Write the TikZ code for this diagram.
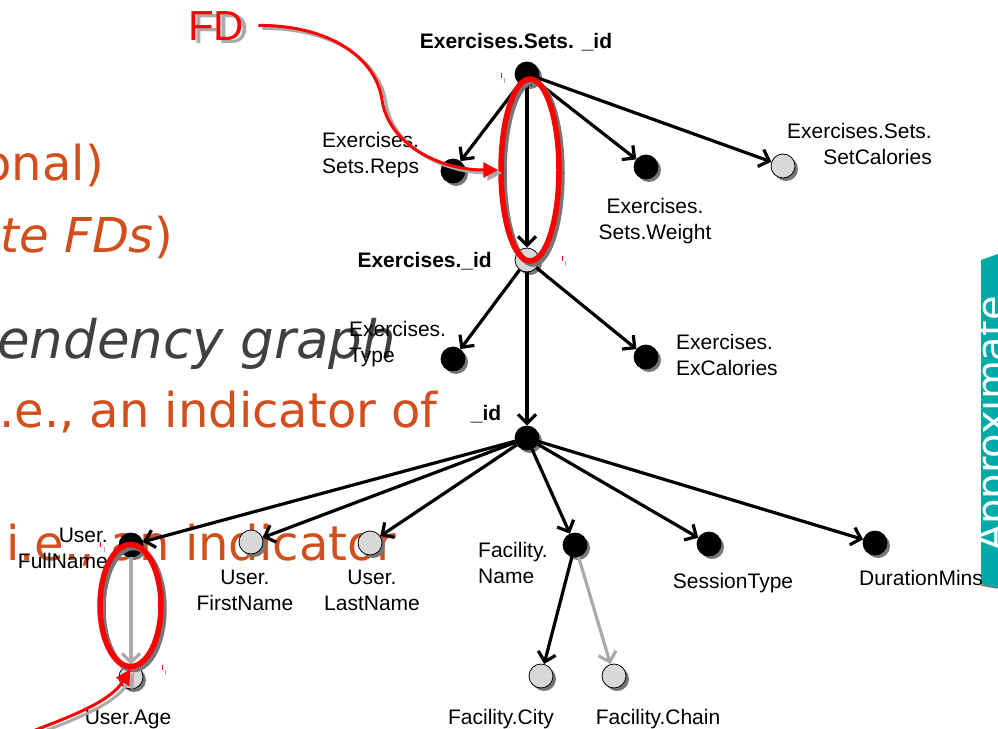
\documentclass[tikz,border=0pt]{standalone}
\usepackage{fontspec}
\setmainfont{Liberation Sans}
\newfontfamily\slidefont{DejaVu Sans}
\usetikzlibrary{arrows.meta,shadows,shapes.geometric}

\definecolor{slideorange}{RGB}{210,78,28}
\definecolor{slidegray}{RGB}{64,64,64}
\definecolor{tabteal}{RGB}{0,170,168}
\definecolor{nodegray}{RGB}{216,216,216}
\definecolor{shadowgray}{RGB}{118,118,118}
\definecolor{softgray}{RGB}{170,170,170}
\definecolor{fdred}{RGB}{255,0,0}

\begin{document}
\begin{tikzpicture}[x=1pt,y=-1pt,
  attr/.style={circle, minimum size=24pt, inner sep=0pt, draw=black, line width=0.8pt,
    drop shadow={shadow xshift=3pt, shadow yshift=-3pt, fill=shadowgray, opacity=1}},
  key/.style={attr, fill=black},
  nonkey/.style={attr, fill=nodegray},
  dep/.style={line width=3.2pt, draw=black, -{Straight Barb[length=9pt,width=18pt]}},
  weakdep/.style={dep, draw=softgray},
  lbl/.style={inner sep=0pt, font=\fontsize{21}{25.5}\selectfont},
  blbl/.style={inner sep=0pt, font=\fontsize{21}{25.5}\selectfont\bfseries},
  slidetext/.style={inner sep=0pt, text=slideorange, font=\slidefont\fontsize{48}{48}\selectfont},
  slidehead/.style={inner sep=0pt, text=slidegray, font=\slidefont\fontsize{53}{53}\selectfont},
  grp/.style={ellipse, inner sep=0pt, line width=5.5pt},
  fdcurve/.style={line width=3pt, draw=fdred, -{Triangle[length=15pt,width=15pt]}},
  fdshadow/.style={line width=3pt, draw=softgray, -{Triangle[length=15pt,width=15pt]},
    transform canvas={xshift=4pt,yshift=-3pt}},
  tick/.style={line width=1pt}
]
\useasboundingbox (0,0) rectangle (998,728);
\clip (0,0) rectangle (998,728);

% slide text behind the graph
\node[slidetext, anchor=base east] (s1) at (104,180) {onal)};
\node[slidetext, anchor=base east] (s2) at (173,252) {\textit{te FDs})};
\node[slidehead, anchor=base east] (s3) at (396,358) {\textit{endency graph}};
\node[slidetext, anchor=base east] (s4) at (438,427) {.e., an indicator of};
\node[slidetext, anchor=base west] (s5) at (6,560) {i.e., an indicator};

% side tab
\fill[tabteal] (981,260) -- (998,254) -- (998,588) -- (981,584) -- cycle;
\draw[line width=1.5pt, shadowgray] (981,585) -- (997,588);
\node[rotate=90, text=white, inner sep=0pt, anchor=base,
      font=\slidefont\fontsize{40}{40}\selectfont] (tab) at (1005,424) {Approximate};

% attributes
\node[key]    (setid)     at (527,74)  {};
\node[key]    (reps)      at (453,171) {};
\node[key]    (weight)    at (646,167) {};
\node[nonkey] (setcal)    at (783,166) {};
\node[nonkey] (exid)      at (527,260) {};
\node[key]    (extype)    at (453,359) {};
\node[key]    (excal)     at (646,357) {};
\node[key]    (sid)       at (527,438) {};
\node[key]    (fullname)  at (131,545) {};
\node[nonkey] (firstname) at (251,542) {};
\node[nonkey] (lastname)  at (370,543) {};
\node[key]    (facname)   at (575,545) {};
\node[key]    (sesstype)  at (709,544) {};
\node[key]    (duration)  at (875,543) {};
\node[nonkey] (faccity)   at (541,676) {};
\node[nonkey] (facchain)  at (614,676) {};
\node[nonkey] (age)       at (131,677) {};

% attribute names (base = baseline of the last line)
\node[blbl, anchor=base] (setidL) at (516,48) {Exercises.Sets. \_id};
\node[lbl, anchor=base west, align=left] (repsL) at (322,173) {Exercises.\\Sets.Reps};
\node[lbl, anchor=base, align=center] (weightL) at (655,239) {Exercises.\\Sets.Weight};
\node[lbl, anchor=base east, align=right] (setcalL) at (932,164) {Exercises.Sets.\\SetCalories};
\node[blbl, anchor=base east] (exidL) at (492,267) {Exercises.\_id};
\node[lbl, anchor=base west, align=left] (extypeL) at (349,362) {Exercises.\\Type};
\node[lbl, anchor=base west, align=left] (excalL) at (676,375) {Exercises.\\ExCalories};
\node[blbl, anchor=base] (sidL) at (486,420) {\_id};
\node[lbl, anchor=base east, align=right] (fullnameL) at (108,568) {User.\\FullName};
\node[lbl, anchor=base, align=center] (firstnameL) at (245,610) {User.\\FirstName};
\node[lbl, anchor=base, align=center] (lastnameL) at (372,610) {User.\\LastName};
\node[lbl, anchor=base west, align=left] (facnameL) at (478,583) {Facility.\\Name};
\node[lbl, anchor=base] (sesstypeL) at (733,588) {SessionType};
\node[lbl, anchor=base] (durationL) at (921,585) {DurationMins};
\node[lbl, anchor=base] (faccityL) at (501,724) {Facility.City};
\node[lbl, anchor=base] (facchainL) at (658,724) {Facility.Chain};
\node[lbl, anchor=base] (ageL) at (128,724) {User.Age};

% dependencies
\draw[dep] (setid) -- (reps);
\draw[dep] (setid) -- (weight);
\draw[dep] (setid) -- (setcal);
\draw[dep] (setid) -- (exid);
\draw[dep] (exid) -- (extype);
\draw[dep] (exid) -- (excal);
\draw[dep] (exid) -- (sid);
\draw[dep] (sid) -- (fullname);
\draw[dep] (sid) -- (firstname);
\draw[dep] (sid) -- (lastname);
\draw[dep] (sid) -- (facname);
\draw[dep] (sid) -- (sesstype);
\draw[dep] (sid) -- (duration);
\draw[dep] (facname) -- (faccity);
\draw[weakdep] (facname) -- (facchain);
\draw[weakdep] (fullname) -- (age);

% highlighted dependencies
\node[grp, draw=shadowgray, minimum width=58pt, minimum height=182pt] (grpAs) at (533,173) {};
\node[grp, draw=fdred, minimum width=58pt, minimum height=182pt] (grpA) at (530,170) {};
\node[grp, draw=shadowgray, minimum width=61pt, minimum height=122pt] (grpBs) at (133.5,608.5) {};
\node[grp, draw=fdred, minimum width=61pt, minimum height=122pt] (grpB) at (130.5,605.5) {};

% small marks beside the rings
\draw[tick, fdred] (501,73) -- (501,78);
\draw[tick, softgray] (504,78) -- (504,83);
\draw[tick, fdred] (562,256) -- (562,261);
\draw[tick, softgray] (565,261) -- (565,266);
\draw[tick, fdred] (100,542) -- (100,547);
\draw[tick, softgray] (104,547) -- (104,552);
\draw[tick, fdred] (162,665) -- (162,670);
\draw[tick, softgray] (165,670) -- (165,675);

% FD callouts
\node[inner sep=0pt, anchor=base west, text=softgray, font=\fontsize{42}{42}\selectfont] (fds) at (193,43) {FD};
\node[inner sep=0pt, anchor=base west, text=fdred, font=\fontsize{42}{42}\selectfont] (fd) at (188,40) {FD};
\coordinate (fdlow) at (10,740);

\draw[fdshadow, shorten <=14pt] (fd.east) .. controls (330,25) and (376,58) .. (382,100)
  .. controls (389,145) and (440,170) .. (grpA.west);
\draw[fdcurve, shorten <=14pt] (fd.east) .. controls (330,25) and (376,58) .. (382,100)
  .. controls (389,145) and (440,170) .. (grpA.west);
\draw[fdshadow] (fdlow) .. controls (60,720) and (108,705) .. (grpB.south);
\draw[fdcurve] (fdlow) .. controls (60,720) and (108,705) .. (grpB.south);
\end{tikzpicture}
\end{document}
